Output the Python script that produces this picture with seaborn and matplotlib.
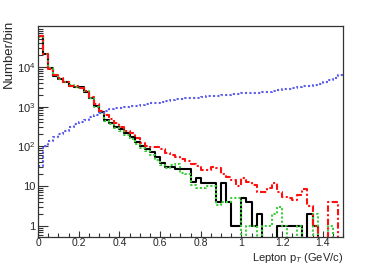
import numpy as np
import pandas as pd
import seaborn as sns
import matplotlib.pyplot as plt
from matplotlib.ticker import FixedLocator, FixedFormatter, MultipleLocator, LogLocator, NullFormatter

# 60 bins of 0.025 GeV/c, 0 - 1.5
n_bins = 60
pt_max = 1.5

black_counts = [58000, 21500, 9300, 6000, 5000, 4200, 3300, 3200, 3050, 2350,
                1650, 1050, 720, 460, 390, 310, 270, 215, 170, 130,
                105, 88, 72, 55, 38, 31, 31, 27, 27, 27,
                13, 16, 12, 12, 12, 4, 12, 4, 1, 1,
                5, 4, 1, 2, 0, 0, 0, 1, 1, 1,
                1, 1, 0, 2, 1, 0, 0, 0, 0, 0]

green_counts = [56000, 21000, 9500, 6100, 4900, 4100, 3400, 3100, 3000, 2400,
                1600, 1000, 690, 430, 360, 290, 250, 195, 150, 118,
                92, 78, 62, 46, 35, 29, 34, 36, 22, 20,
                11, 9, 9, 10, 10, 3.4, 4, 4, 5, 5,
                0, 1, 1, 0, 1, 1, 2, 3, 1, 0,
                0, 1, 0, 0, 2, 0, 0, 1, 0, 0]

red_counts = [60000, 21000, 9000, 6200, 5100, 4100, 3300, 3300, 2900, 2400,
              1700, 1150, 790, 620, 480, 380, 315, 240, 220, 160,
              122, 100, 98, 98, 85, 69, 61, 55, 48, 44,
              37, 32, 25, 25, 31, 28, 20, 17, 14, 10,
              15.7, 13, 10.7, 7.3, 7.3, 9, 12, 7.3, 5.5, 5,
              4.5, 6, 8.4, 3.1, 1, 0, 0, 4, 4, 0]

blue_counts = [32, 100, 140, 170, 200, 250, 300, 360, 420, 470,
               550, 620, 700, 760, 850, 900, 950, 990, 1020, 1060,
               1100, 1150, 1200, 1250, 1330, 1400, 1470, 1520, 1580, 1600,
               1650, 1680, 1750, 1800, 1850, 1880, 1930, 1980, 2050, 2120,
               2180, 2200, 2230, 2250, 2300, 2380, 2450, 2580, 2700, 2850,
               3000, 3150, 3250, 3350, 3550, 3800, 4200, 4600, 5100, 6200]

x_ticks = [0, 0.2, 0.4, 0.6, 0.8, 1.0, 1.2, 1.4]
x_labels = ['0', '0.2', '0.4', '0.6', '0.8', '1', '1.2', '1.4']
y_ticks = [1, 10, 100, 1000, 10000]
y_labels = ['1', '10', '$10^{2}$', '$10^{3}$', '$10^{4}$']

sns.set_style('ticks')
plt.rcParams['font.family'] = ['Liberation Sans', 'DejaVu Sans']
plt.rcParams['mathtext.fontset'] = 'custom'
plt.rcParams['mathtext.rm'] = 'Liberation Sans'
plt.rcParams['mathtext.it'] = 'Liberation Sans:italic'

bin_w = pt_max / n_bins
centers = bin_w * (np.arange(n_bins) + 0.5)

fig, ax = plt.subplots(figsize=(3.82, 2.64), dpi=100)
fig.subplots_adjust(left=0.0995, right=0.898, bottom=0.1023, top=0.9015)

series = [
    (black_counts, 'black', '-'),
    (green_counts, '#3ccc3c', (0, (1, 1))),
    (red_counts, '#ff1010', (0, (3, 1.2, 1, 1.2))),
    (blue_counts, '#5a5aee', (0, (1, 1.1))),
]
for counts, color, ls in series:
    df = pd.DataFrame({'pt': centers, 'n': counts})
    sns.histplot(data=df, x='pt', weights='n', bins=n_bins, binrange=(0, pt_max),
                 element='step', fill=False, color=color, linestyle=ls,
                 linewidth=1.5, ax=ax)

ax.set_yscale('log', nonpositive='clip')
ax.set_xlim(0, pt_max)
ax.set_ylim(0.53, 1.06e5)

ax.xaxis.set_major_locator(FixedLocator(x_ticks))
ax.xaxis.set_major_formatter(FixedFormatter(x_labels))
ax.xaxis.set_minor_locator(MultipleLocator(0.05))
ax.yaxis.set_major_locator(FixedLocator(y_ticks))
ax.yaxis.set_major_formatter(FixedFormatter(y_labels))
ax.yaxis.set_minor_locator(LogLocator(base=10, subs=np.arange(2, 10), numticks=20))
ax.yaxis.set_minor_formatter(NullFormatter())

ax.tick_params(axis='both', which='both', direction='in', top=False, right=False,
               color='#333333')
ax.tick_params(axis='x', which='major', length=4.5, width=0.8, labelsize=7.5, pad=1)
ax.tick_params(axis='x', which='minor', length=2.6, width=0.8)
ax.tick_params(axis='y', which='major', length=7, width=0.8, labelsize=8, pad=2)
ax.tick_params(axis='y', which='minor', length=3.8, width=0.8)
for sp in ax.spines.values():
    sp.set_linewidth(0.9)
    sp.set_color('#333333')

ax.set_xlabel('Lepton p$_{T}$ (GeV/c)', fontsize=8, loc='right')
ax.xaxis.set_label_coords(1.0, -0.066)
ax.set_ylabel('Number/bin', fontsize=9.5, loc='top')
ax.yaxis.set_label_coords(-0.075, 1.03)

plt.savefig('out.png', dpi=100)
